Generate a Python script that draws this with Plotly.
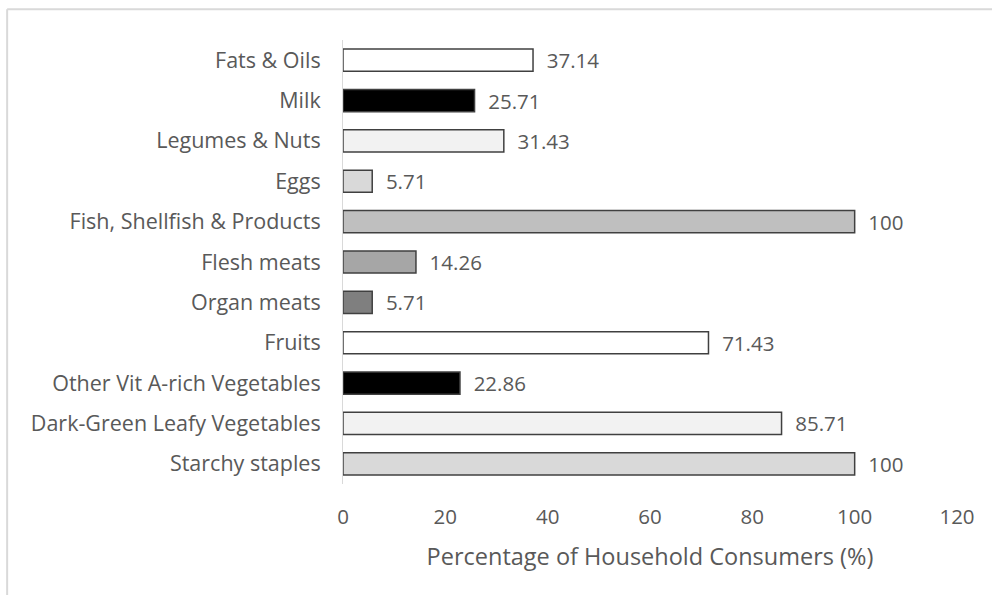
import plotly.graph_objects as go

categories = [
    "Starchy staples",
    "Dark-Green Leafy Vegetables",
    "Other Vit A-rich Vegetables",
    "Fruits",
    "Organ meats",
    "Flesh meats",
    "Fish, Shellfish & Products",
    "Eggs",
    "Legumes & Nuts",
    "Milk",
    "Fats & Oils",
]
values = [100, 85.71, 22.86, 71.43, 5.71, 14.26, 100, 5.71, 31.43, 25.71, 37.14]
bar_colors = ["#d9d9d9", "#f2f2f2", "#000000", "#ffffff", "#7f7f7f", "#a6a6a6",
              "#bfbfbf", "#d9d9d9", "#f2f2f2", "#000000", "#ffffff"]
x_ticks = [0, 20, 40, 60, 80, 100, 120]

FONT = "Open Sans"
GRAY = "#595959"

labels = ["  " + f"{v:g}" for v in values]

fig = go.Figure(go.Bar(
    y=categories,
    x=values,
    orientation="h",
    marker=dict(color=bar_colors, line=dict(color="#404040", width=1.5)),
    text=labels,
    textposition="outside",
    constraintext="none",
    textfont=dict(family=FONT, size=20.5, color=GRAY),
    cliponaxis=False,
))

fig.update_layout(
    width=992, height=598,
    margin=dict(l=343, r=35, t=40, b=114),
    paper_bgcolor="white", plot_bgcolor="white",
    bargap=0.45,
    showlegend=False,
    font=dict(family=FONT, size=20.5, color=GRAY),
    xaxis=dict(
        range=[0, 120],
        tickvals=x_ticks,
        showgrid=False, zeroline=False, showline=False,
        ticks="",
        ticklabelstandoff=18,
        tickfont=dict(family=FONT, size=20.5, color=GRAY),
        title=dict(text="Percentage of Household Consumers (%)",
                   font=dict(family=FONT, size=23.5, color=GRAY), standoff=20),
    ),
    yaxis=dict(
        showgrid=False, zeroline=False,
        showline=True, linecolor="#d9d9d9", linewidth=1,
        ticks="",
        ticklabelstandoff=17,
        tickfont=dict(family=FONT, size=21.5, color=GRAY),
    ),
    shapes=[
        dict(type="line", xref="paper", yref="paper",
             x0=-0.547, x1=1.06, y0=1.069, y1=1.069,
             line=dict(color="#d9d9d9", width=2)),
        dict(type="line", xref="paper", yref="paper",
             x0=-0.547, x1=-0.547, y0=1.069, y1=-0.25,
             line=dict(color="#d9d9d9", width=2)),
    ],
)

fig.write_html("out.html")
